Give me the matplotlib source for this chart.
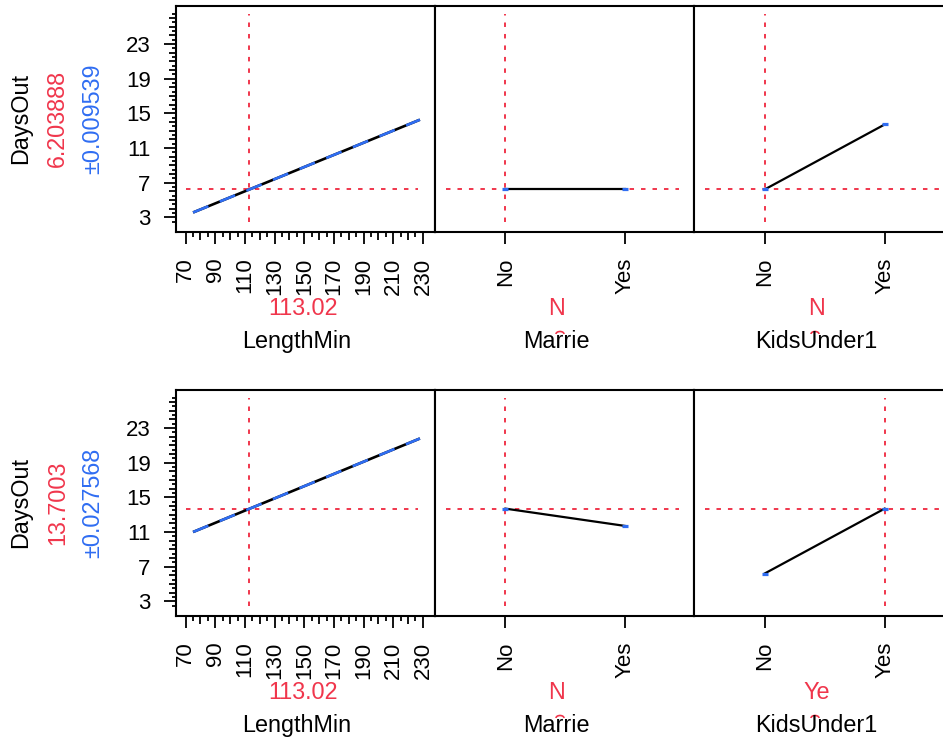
import matplotlib
matplotlib.use("Agg")
import matplotlib.pyplot as plt
from matplotlib.patches import Arc
import numpy as np

plt.rcParams['font.family'] = ['Liberation Sans', 'DejaVu Sans']

# profiler data (one entry per row)
response = "DaysOut"
factor_names = ["LengthMin", "Marrie", "KidsUnder1"]
categories = ["No", "Yes"]
length_min = [75, 228]
days_len = [[3.55, 14.25], [11.0, 21.8]]
days_marrie = [[6.203888, 6.203888], [13.7003, 11.7]]
days_kids = [[6.203888, 13.7003], [6.203888, 13.7003]]
current_days = ["6.203888", "13.7003"]
current_ci = ["\u00b10.009539", "\u00b10.027568"]
current_length = 113.02
current_marrie = ["N", "N"]
current_kids = ["N", "Ye"]
marrie_idx = [0, 0]
kids_idx = [0, 1]
y_ticks = [3, 7, 11, 15, 19, 23]
x_ticks = list(range(70, 231, 20))

RED = '#F0364C'
BLUE = '#2F6DF2'
W, H = 943, 738
PT = 0.72  # points per pixel at 100 dpi

fig = plt.figure(figsize=(W / 100, H / 100), dpi=100)


def px(x, y):
    return x / W, 1 - y / H


def rect(x0, x1, y0, y1):
    return [x0 / W, 1 - y1 / H, (x1 - x0) / W, (y1 - y0) / H]


panel_x = [175.7, 435.2, 694.3, 953.9]
row_y = [(5.7, 232.0), (390.0, 616.0)]
row_center = [118.9, 503.0]
val_base = [315, 699]
name_base = [348, 732]
ylim = (1.3, 27.4)
len_lim = (63.3, 238.3)
cat_lim = (-0.586, 1.577)
dash = dict(color=RED, lw=1.4, dashes=(2.3, 3.6))


def frame(ax):
    for s in ax.spines.values():
        s.set_linewidth(1.5)
    ax.set_ylim(*ylim)


for r in range(2):
    y0, y1 = row_y[r]
    cur = float(current_days[r])

    # short ticks at half steps (separate overlay, drawn beneath)
    ov = fig.add_axes(rect(panel_x[0], panel_x[1], y0, y1), zorder=-1)
    ov.set_xlim(*len_lim)
    ov.set_ylim(*ylim)
    ov.patch.set_visible(False)
    for s in ov.spines.values():
        s.set_visible(False)
    ov.set_yticks(np.arange(2.5, 27, 1.0))
    ov.set_xticks(list(range(75, 230, 10)))
    ov.tick_params(length=4.5 * PT, width=1.3, labelleft=False, labelbottom=False)

    # LengthMin panel
    ax = fig.add_axes(rect(panel_x[0], panel_x[1], y0, y1))
    frame(ax)
    ax.set_xlim(*len_lim)
    ax.plot([70, 227], [cur, cur], **dash)
    ax.plot([current_length] * 2, [2.5, 26.5], **dash)
    ax.plot(length_min, days_len[r], color='black', lw=1.9, solid_capstyle='butt')
    ax.plot(length_min, days_len[r], color=BLUE, lw=1.9, dashes=(6.3, 4.6))
    ax.set_yticks(y_ticks)
    ax.set_yticks([v for v in range(3, 27) if v not in y_ticks], minor=True)
    ax.set_xticks(x_ticks)
    ax.set_xticks(list(range(80, 231, 20)), minor=True)
    ax.tick_params(which='major', length=11.7 * PT, width=1.3, labelsize=16)
    ax.tick_params(which='minor', length=7.5 * PT, width=1.3)
    ax.tick_params(axis='y', which='major', pad=13.3 * PT)
    ax.tick_params(axis='x', which='major', pad=14 * PT, labelrotation=90)
    ax.tick_params(which='minor', labelbottom=False, labelleft=False)

    # categorical panels
    for k, (vals, idx) in enumerate([(days_marrie[r], marrie_idx[r]),
                                      (days_kids[r], kids_idx[r])]):
        cx = fig.add_axes(rect(panel_x[k + 1], panel_x[k + 2], y0, y1))
        frame(cx)
        cx.set_xlim(*cat_lim)
        cx.plot([-0.5, 1.45 if k == 0 else 1.7], [cur, cur], **dash)
        cx.plot([idx, idx], [2.5, 26.5], **dash)
        cx.plot([0, 1], vals, color='black', lw=1.6)
        cx.plot([0, 1], vals, ls='none', marker='_', ms=6 * PT, mew=3.2 * PT, color=BLUE)
        cx.set_xticks([0, 1])
        cx.set_xticklabels(categories, rotation=90)
        cx.set_yticks([])
        cx.tick_params(axis='x', length=11.7 * PT, width=1.3, labelsize=16, pad=14 * PT)

    # response labels
    yc = row_center[r]
    fig.text(*px(20.8, yc), response, rotation=90, ha='center', va='center', fontsize=16.8)
    fig.text(*px(57.5, yc), current_days[r], rotation=90, ha='center', va='center',
             fontsize=16.8, color=RED)
    fig.text(*px(92.5, yc), current_ci[r], rotation=90, ha='center', va='center',
             fontsize=16.8, color=BLUE)

    # factor labels
    fig.text(*px(302.5, val_base[r]), f"{current_length:.2f}", ha='center', va='baseline',
             fontsize=16.8, color=RED)
    fig.text(*px(297, name_base[r]), factor_names[0], ha='center', va='baseline', fontsize=16.8)
    fig.text(*px(557, val_base[r]), current_marrie[r], ha='center', va='baseline',
             fontsize=16.8, color=RED)
    fig.text(*px(556.7, name_base[r]), factor_names[1], ha='center', va='baseline', fontsize=16.8)
    fig.text(*px(816.7, val_base[r]), current_kids[r], ha='center', va='baseline',
             fontsize=16.8, color=RED)
    fig.text(*px(816, name_base[r]), factor_names[2], ha='center', va='baseline', fontsize=16.8)

    # small clipped marks above the names
    for ax_x in (560, 815):
        fig.add_artist(Arc(px(ax_x, name_base[r] - 14), 8 / W, 5 / H, theta1=0, theta2=180,
                           transform=fig.transFigure, color=RED, lw=1.2))

fig.savefig('out.png', dpi=100)
